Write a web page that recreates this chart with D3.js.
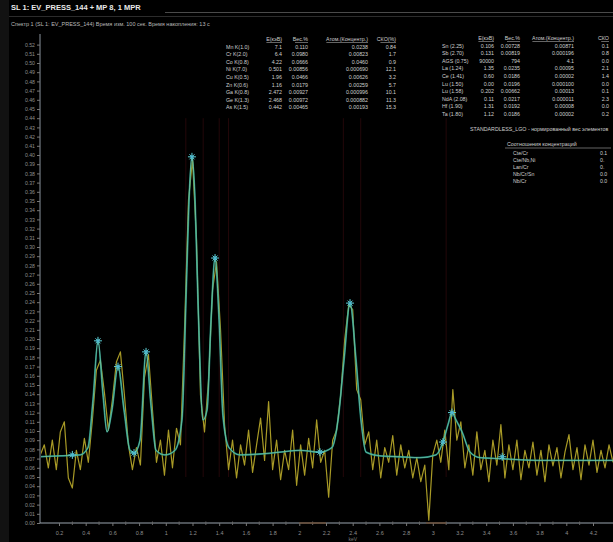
<!DOCTYPE html>
<html><head><meta charset="utf-8">
<script src="https://cdn.jsdelivr.net/npm/d3@7"></script>
<style>
html,body{margin:0;padding:0;background:#000;overflow:hidden}
svg{display:block;font-family:"Liberation Sans",Arial,sans-serif}
</style></head>
<body><svg id="c" width="613" height="542"></svg>
<script>
// ---------- data ----------
const titleText = "SL 1: EV_PRESS_144 + MP 8, 1 MPR";
const subtitleText = "Спектр 1 (SL 1: EV_PRESS_144) Время изм. 100 сек.  Время накопления: 13 с";
const xTickValues = [0.2,0.4,0.6,0.8,1.0,1.2,1.4,1.6,1.8,2.0,2.2,2.4,2.6,2.8,3.0,3.2,3.4,3.6,3.8,4.0,4.2];
const xTickLabels = ["0.2","0.4","0.6","0.8","1","1.2","1.4","1.6","1.8","2","2.2","2.4","2.6","2.8","3","3.2","3.4","3.6","3.8","4","4.2"];
const yTickValues = [0,0.01,0.02,0.03,0.04,0.05,0.06,0.07,0.08,0.09,0.10,0.11,0.12,0.13,0.14,0.15,0.16,0.17,0.18,0.19,0.20,0.21,0.22,0.23,0.24,0.25,0.26,0.27,0.28,0.29,0.30,0.31,0.32,0.33,0.34,0.35,0.36,0.37,0.38,0.39,0.40,0.41,0.42,0.43,0.44,0.45,0.46,0.47,0.48,0.49,0.50,0.51,0.52];
const xAxisTitle = "keV";

// measured spectrum (channel start energy / channel width, then counts)
const specStart = 0.06, specStep = 0.03;
const measured = [0.074,0.085,0.060,0.090,0.058,0.099,0.110,0.049,0.038,0.079,0.058,0.092,0.066,0.112,0.166,0.177,0.142,0.101,0.134,0.175,
0.186,0.139,0.085,0.058,0.082,0.063,0.158,0.183,0.123,0.066,0.090,0.052,0.101,0.060,0.103,0.085,0.210,0.351,0.395,0.308,
0.139,0.099,0.155,0.253,0.284,0.210,0.107,0.058,0.090,0.049,0.085,0.063,0.101,0.055,0.085,0.114,0.068,0.132,0.058,0.090,
0.047,0.079,0.058,0.101,0.041,0.085,0.052,0.092,0.060,0.112,0.066,0.079,0.028,0.090,0.101,0.139,0.199,0.237,0.232,0.145,
0.134,0.085,0.099,0.058,0.090,0.049,0.082,0.066,0.095,0.052,0.085,0.060,0.079,0.049,0.071,0.045,0.063,0.003,0.074,0.090,
0.066,0.101,0.058,0.145,0.090,0.110,0.060,0.085,0.052,0.099,0.058,0.079,0.045,0.090,0.063,0.107,0.049,0.085,0.058,0.090,
0.047,0.079,0.060,0.088,0.052,0.079,0.045,0.085,0.062,0.082,0.049,0.077,0.096,0.058,0.082,0.047,0.085,0.063,0.090,0.055,
0.079,0.060,0.085,0.066];

// fitted curve [energy, value]
const fitCurve = [[0.058,0.072],[0.207,0.073],[0.357,0.074],[0.417,0.082],[0.455,0.134],[0.492,0.198],[0.530,0.139],[0.560,0.099],
[0.597,0.123],[0.642,0.170],[0.687,0.123],[0.732,0.079],[0.762,0.076],[0.807,0.090],[0.852,0.186],[0.889,0.128],[0.927,0.079],
[0.994,0.074],[1.069,0.079],[1.121,0.112],[1.151,0.242],[1.174,0.351],[1.196,0.398],[1.219,0.351],[1.241,0.242],[1.279,0.112],
[1.309,0.123],[1.339,0.221],[1.369,0.288],[1.399,0.221],[1.428,0.117],[1.473,0.082],[1.556,0.074],[1.706,0.075],[1.855,0.077],
[2.005,0.079],[2.155,0.077],[2.245,0.082],[2.290,0.112],[2.335,0.177],[2.380,0.239],[2.425,0.177],[2.462,0.112],[2.500,0.077],
[2.604,0.073],[2.754,0.072],[2.904,0.071],[3.024,0.074],[3.076,0.088],[3.114,0.107],[3.144,0.120],[3.174,0.112],[3.219,0.099],
[3.279,0.077],[3.354,0.071],[3.503,0.070],[3.803,0.068],[4.103,0.068],[4.350,0.068]];

// fit markers [energy, value]
const fitMarkers = [[0.492,0.198],[0.642,0.170],[0.852,0.186],[1.196,0.398],[1.369,0.288],[2.380,0.239],[3.144,0.120],
[0.762,0.076],[2.155,0.077],[3.076,0.088],[3.520,0.072],[0.300,0.074]];

// element line positions (keV)
const elementLines = [1.15,1.28,1.40,1.47,2.33,2.46,3.10];

// table 1
const t1Headers = ["Е(кэВ)","Вес.%","Атом.(Концентр.)","СКО(%)"];
const t1Names = ["Mn K(1.0)","Cr K(2.0)","Co K(0.8)","Ni K(7.0)","Cu K(0.5)","Zn K(0.6)","Ga K(0.8)","Ge K(1.3)","As K(1.5)"];
const t1Col1 = ["7.1","6.4","4.22","0.501","1.96","1.16","2.472","2.468","0.442"];
const t1Col2 = ["0.110","0.0980","0.0666","0.00856","0.0466","0.0179","0.00927","0.00972","0.00465"];
const t1Col3 = ["0.0238","0.00823","0.0460","0.000690","0.00626","0.00259","0.000996","0.000882","0.00193"];
const t1Col4 = ["0.84","1.7","0.9","12.1","3.2","5.7","10.1","11.3","15.3"];

// table 2
const t2Headers = ["Е(кэВ)","Вес.%","Атом.(Концентр.)","СКО"];
const t2Names = ["Sn (2.25)","Sb (2.70)","AGS (0.75)","La (1.24)","Ce (1.41)","Lu (1.50)","Lu (1.58)","NdA (2.08)","Hf (1.90)","Ta (1.80)"];
const t2Col1 = ["0.106","0.131","90000","1.35","0.60","0.00","0.202","0.11","1.31","1.12"];
const t2Col2 = ["0.00728","0.00819","794","0.0235","0.0186","0.0196","0.00662","0.0217","0.0192","0.0186"];
const t2Col3 = ["0.00871","0.000196","4.1","0.00095","0.00002","0.000100","0.00013","0.000011","0.00008","0.00002"];
const t2Col4 = ["0.1","0.8","0.0","2.1","1.4","0.0","0.1","2.3","0.0","0.2"];

const standardText = "STANDARDLESS_LGO - нормированный вес элементов";
const ratioHeader = "Соотношения концентраций";
const ratioNames = ["Cte/Cr","Cte/Nb,Ni","Lan/Cr","Nb/Cr/Sn","Nb/Cr"];
const ratioValues = ["0.1","0.","0.","0.0","0.0"];

// ---------- drawing ----------
const svg = d3.select("#c");
const W = 613, H = 542;
const x = d3.scaleLinear().domain([0.2, 4.2]).range([59, 593]);
const y = d3.scaleLinear().domain([0, 0.52]).range([523, 44.6]);
const plotL = 40, plotR = 613, plotT = 34, plotB = 523;

svg.append("rect").attr("width",W).attr("height",H).attr("fill","#000");
svg.append("rect").attr("x",0).attr("y",0).attr("width",9).attr("height",H).attr("fill","#121212");

// title
svg.append("text").attr("x",11).attr("y",10).attr("fill","#e8e8e8").attr("font-size",7.5).attr("font-weight","bold").text(titleText);
svg.append("line").attr("x1",165).attr("x2",613).attr("y1",12.5).attr("y2",12.5).attr("stroke","#4a4a4a").attr("stroke-width",1);
svg.append("line").attr("x1",9).attr("x2",613).attr("y1",16.5).attr("y2",16.5).attr("stroke","#2c2c2c").attr("stroke-width",1);
svg.append("text").attr("x",11).attr("y",26).attr("fill","#b8b8b8").attr("font-size",5.5).text(subtitleText);

// clip
svg.append("defs").append("clipPath").attr("id","clip").append("rect")
  .attr("x",plotL+1).attr("y",plotT).attr("width",plotR-plotL).attr("height",plotB-plotT);

// element lines
svg.append("g").attr("clip-path","url(#clip)").selectAll("line").data(elementLines).join("line")
  .attr("x1",d=>x(d)).attr("x2",d=>x(d)).attr("y1",y(0.05)).attr("y2",y(0.44))
  .attr("stroke","#230709").attr("stroke-width",1);

// y axis
const yAxis = svg.append("g").attr("transform",`translate(${plotL},0)`)
  .call(d3.axisLeft(y).tickValues(yTickValues).tickFormat(d3.format(".2f")).tickSize(3).tickPadding(2));
yAxis.select(".domain").attr("stroke","#8a939d").attr("d",`M0,${plotT}V${plotB}`);
yAxis.selectAll(".tick line").attr("stroke","#777");
yAxis.selectAll(".tick text").attr("fill","#8e8e8e").attr("font-size",5.2).attr("font-family","Liberation Sans, Arial, sans-serif");

// x axis
const xAxis = svg.append("g").attr("transform",`translate(0,${plotB})`)
  .call(d3.axisBottom(x).tickValues(xTickValues).tickFormat((d,i)=>xTickLabels[i]).tickSize(3).tickPadding(5));
xAxis.select(".domain").attr("stroke","#9aa4ae").attr("stroke-width",1.2).attr("d",`M${plotL},0H${plotR}`);
xAxis.selectAll(".tick line").attr("stroke","#777");
xAxis.selectAll(".tick text").attr("fill","#8e8e8e").attr("font-size",5.5).attr("font-family","Liberation Sans, Arial, sans-serif");
const minor = xTickValues.slice(0,-1).map((v,i)=>(v+xTickValues[i+1])/2);
xAxis.selectAll(".minor").data(minor).join("line").attr("class","minor")
  .attr("x1",d=>x(d)).attr("x2",d=>x(d)).attr("y1",-1.5).attr("y2",2).attr("stroke","#666");
// ROI marks on axis
xAxis.selectAll(".roi").data([[2.0,2.2],[2.95,3.1]]).join("line").attr("class","roi")
  .attr("x1",d=>x(d[0])).attr("x2",d=>x(d[1])).attr("y1",0).attr("y2",0).attr("stroke","#6e4a2c").attr("stroke-width",1.2);
svg.append("text").attr("x",x(2.4)).attr("y",541).attr("text-anchor","middle").attr("fill","#7a7a7a").attr("font-size",5).text(xAxisTitle);

const plot = svg.append("g").attr("clip-path","url(#clip)");
// measured spectrum
plot.append("path").datum(measured)
  .attr("d", d3.line().x((d,i)=>x(specStart+specStep*i)).y(d=>y(d)))
  .attr("fill","none").attr("stroke","#a89a26").attr("stroke-width",1.2).attr("stroke-linejoin","round");
// fit
const fitLine = d3.line().x(d=>x(d[0])).y(d=>y(d[1])).curve(d3.curveMonotoneX);
plot.append("path").datum(fitCurve).attr("d",fitLine)
  .attr("fill","none").attr("stroke","#1f9a8c").attr("stroke-width",1.8).attr("opacity",0.85);
plot.append("path").datum(fitCurve).attr("d",fitLine)
  .attr("fill","none").attr("stroke","#a6e8c4").attr("stroke-width",0.6).attr("opacity",0.8);
// markers
const mk = plot.selectAll(".mk").data(fitMarkers).join("g").attr("class","mk")
  .attr("transform",d=>`translate(${x(d[0])},${y(d[1])})`);
mk.append("path").attr("d","M-4,0H4M0,-4V4M-2.5,-2.5L2.5,2.5M-2.5,2.5L2.5,-2.5")
  .attr("stroke","#5fd2d8").attr("stroke-width",1);
mk.append("circle").attr("r",1.7).attr("fill","#4fb8d0");

// tables
function drawTable(x0, cols, headers, names, c1, c2, c3, c4, yTop, rowH){
  const g = svg.append("g").attr("font-size",5.3).attr("fill","#cfcfcf");
  headers.forEach((h,i)=>{
    g.append("text").attr("x",cols[i+1]).attr("y",yTop).attr("text-anchor","end").text(h);
    g.append("line").attr("x1",cols[i+1]-h.length*2.6).attr("x2",cols[i+1]).attr("y1",yTop+1.5).attr("y2",yTop+1.5).attr("stroke","#aaa").attr("stroke-width",0.6);
  });
  names.forEach((n,r)=>{
    const yy = yTop + rowH*(r+1);
    g.append("text").attr("x",cols[0]).attr("y",yy).text(n);
    [c1,c2,c3,c4].forEach((c,i)=>{ g.append("text").attr("x",cols[i+1]).attr("y",yy).attr("text-anchor","end").text(c[r]); });
  });
}
drawTable(226,[226,282,308,368,396],t1Headers,t1Names,t1Col1,t1Col2,t1Col3,t1Col4,41,7.6);
drawTable(442,[442,494,520,574,609],t2Headers,t2Names,t2Col1,t2Col2,t2Col3,t2Col4,40,7.6);

svg.append("text").attr("x",470).attr("y",131).attr("fill","#cfcfcf").attr("font-size",5.3).text(standardText);
svg.append("text").attr("x",507).attr("y",146).attr("fill","#cfcfcf").attr("font-size",5.3).text(ratioHeader);
svg.append("line").attr("x1",505).attr("x2",611).attr("y1",148).attr("y2",148).attr("stroke","#aaa").attr("stroke-width",0.6);
ratioNames.forEach((n,i)=>{
  svg.append("text").attr("x",513).attr("y",155+i*7).attr("fill","#cfcfcf").attr("font-size",5.2).text(n);
  svg.append("text").attr("x",600).attr("y",155+i*7).attr("fill","#cfcfcf").attr("font-size",5.2).text(ratioValues[i]);
});
</script></body></html>
